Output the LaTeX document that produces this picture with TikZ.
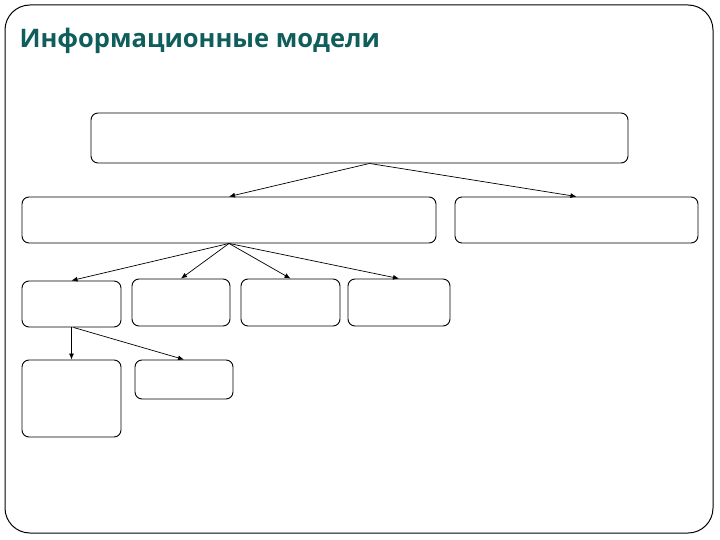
\documentclass[tikz,border=0pt]{standalone}
\usepackage{fontspec}
\setmainfont{Open Sans}
\usetikzlibrary{arrows.meta,positioning}
\definecolor{titleteal}{HTML}{0F5E5C}
\tikzset{
      modelbox/.style={
        rounded corners=7pt,
        draw=black,
        line width=0.9pt,
        fill=white,
        inner sep=0pt
      },
      link/.style={-{Latex[length=6pt,width=5pt]}, line width=0.7pt}
    }

\begin{document}
\begin{tikzpicture}[x=1pt,y=-1pt]
    \useasboundingbox (0,0) rectangle (720,540);
    \draw[line width=1pt, rounded corners=25pt] (5,5) rectangle (713,533);
    \node[anchor=west, text=titleteal, font=\bfseries\fontsize{25.5}{30}\selectfont] (title) at (16,41) {Информационные модели};
    \node[modelbox, minimum width=537pt, minimum height=50pt] (top) at (359.5,138) {};
    \node[modelbox, minimum width=414pt, minimum height=46pt] (graph) at (229,220) {};
    \node[modelbox, minimum width=243pt, minimum height=46pt] (tab) at (576.5,220) {};
    \node[modelbox, minimum width=99pt, minimum height=46pt] (m1) at (71.5,304) {};
    \node[modelbox, minimum width=98pt, minimum height=47pt] (m2) at (181,302.5) {};
    \node[modelbox, minimum width=99pt, minimum height=47pt] (m3) at (290.5,302.5) {};
    \node[modelbox, minimum width=102pt, minimum height=47pt] (m4) at (399,302.5) {};
    \node[modelbox, minimum width=99pt, minimum height=77pt] (s1) at (71.5,398.5) {};
    \node[modelbox, minimum width=98pt, minimum height=39pt] (s2) at (184,379.5) {};
    \draw[link] ([xshift=10pt]top.south) -- (graph.north);
    \draw[link] ([xshift=10pt]top.south) -- (tab.north);
    \foreach \m in {m1,m2,m3,m4}
      \draw[link] (graph.south) -- (\m.north);
    \draw[link] (m1.south) -- (s1.north);
    \draw[link] ([xshift=2pt]m1.south) -- (s2.north);
    \end{tikzpicture}
\end{document}
